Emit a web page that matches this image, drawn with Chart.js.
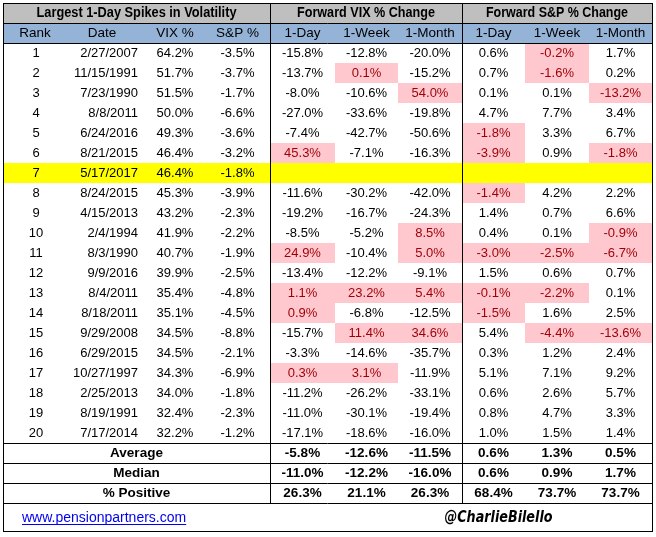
<!DOCTYPE html>
<html>
<head>
<meta charset="utf-8">
<title>Largest 1-Day Spikes in Volatility</title>
<script src="https://cdn.jsdelivr.net/npm/chart.js@4.4.1/dist/chart.umd.min.js"></script>
<style>
    html, body { margin: 0; padding: 0; background: #fff; }
    canvas { display: block; }
</style>
</head>
<body>
<canvas id="spikeTable" width="656" height="537"></canvas>
<script>
const ranks = [1, 2, 3, 4, 5, 6, 7, 8, 9, 10, 11, 12, 13, 14, 15, 16, 17, 18, 19, 20];
const dates = ['2/27/2007', '11/15/1991', '7/23/1990', '8/8/2011', '6/24/2016', '8/21/2015', '5/17/2017',
    '8/24/2015', '4/15/2013', '2/4/1994', '8/3/1990', '9/9/2016', '8/4/2011', '8/18/2011', '9/29/2008',
    '6/29/2015', '10/27/1997', '2/25/2013', '8/19/1991', '7/17/2014'];
const vixSpike = [64.2, 51.7, 51.5, 50.0, 49.3, 46.4, 46.4, 45.3, 43.2, 41.9, 40.7, 39.9, 35.4, 35.1, 34.5, 34.5, 34.3, 34.0, 32.4, 32.2];
const spxSameDay = [-3.5, -3.7, -1.7, -6.6, -3.6, -3.2, -1.8, -3.9, -2.3, -2.2, -1.9, -2.5, -4.8, -4.5, -8.8, -2.1, -6.9, -1.8, -2.3, -1.2];

const vix1Day = [-15.8, -13.7, -8.0, -27.0, -7.4, 45.3, null, -11.6, -19.2, -8.5, 24.9, -13.4, 1.1, 0.9, -15.7, -3.3, 0.3, -11.2, -11.0, -17.1];
const vix1Week = [-12.8, 0.1, -10.6, -33.6, -42.7, -7.1, null, -30.2, -16.7, -5.2, -10.4, -12.2, 23.2, -6.8, 11.4, -14.6, 3.1, -26.2, -30.1, -18.6];
const vix1Month = [-20.0, -15.2, 54.0, -19.8, -50.6, -16.3, null, -42.0, -24.3, 8.5, 5.0, -9.1, 5.4, -12.5, 34.6, -35.7, -11.9, -33.1, -19.4, -16.0];
const spx1Day = [0.6, 0.7, 0.1, 4.7, -1.8, -3.9, null, -1.4, 1.4, 0.4, -3.0, 1.5, -0.1, -1.5, 5.4, 0.3, 5.1, 0.6, 0.8, 1.0];
const spx1Week = [-0.2, -1.6, 0.1, 7.7, 3.3, 0.9, null, 4.2, 0.7, 0.1, -2.5, 0.6, -2.2, 1.6, -4.4, 1.2, 7.1, 2.6, 4.7, 1.5];
const spx1Month = [1.7, 0.2, -13.2, 3.4, 6.7, -1.8, null, 2.2, 6.6, -0.9, -6.7, 0.7, 0.1, 2.5, -13.6, 2.4, 9.2, 5.7, 3.3, 1.4];

const highlightRank = 7; // the latest spike, yellow row

const summaryLabels = ['Average', 'Median', '% Positive'];
const summaryAverage = [-5.8, -12.6, -11.5, 0.6, 1.3, 0.5];
const summaryMedian = [-11.0, -12.2, -16.0, 0.6, 0.9, 1.7];
const summaryPositive = [26.3, 21.1, 26.3, 68.4, 73.7, 73.7];

const groupTitles = ['Largest 1-Day Spikes in Volatility', 'Forward VIX % Change', 'Forward S&P % Change'];
const columnLabels = ['Rank', 'Date', 'VIX %', 'S&P %', '1-Day', '1-Week', '1-Month', '1-Day', '1-Week', '1-Month'];
const footerLink = 'www.pensionpartners.com';
const footerHandle = '@CharlieBilello';

// --- layout (table units) ---
const colWidths = [64, 78, 60, 65, 65, 63, 64, 63, 64, 63];
const colEdges = colWidths.reduce((acc, w) => { acc.push(acc[acc.length - 1] + w); return acc; }, [0]);
const TABLE_W = colEdges[colEdges.length - 1];
const FOOTER_H = 1.4;
const ROW_DATA0 = 2;
const ROW_SUMMARY0 = ROW_DATA0 + ranks.length;
const ROW_FOOTER = ROW_SUMMARY0 + summaryLabels.length;
const TABLE_H = ROW_FOOTER + FOOTER_H;

const FONT = "'Liberation Sans', Arial, sans-serif";
const GRAY = '#bfbfbf';
const BLUE = '#95b3d7';
const YELLOW = '#ffff00';
const PINK = '#ffc7ce';
const PINK_TEXT = '#9c0006';

const fmt = v => v.toFixed(1) + '%';

const tablePlugin = {
    id: 'tablePlugin',
    beforeDatasetsDraw(chart) {
        const ctx = chart.ctx;
        const xs = chart.scales.x;
        const ys = chart.scales.y;
        const px = v => Math.round(xs.getPixelForValue(v));
        const py = v => Math.round(ys.getPixelForValue(v));
        const colCenter = c => (xs.getPixelForValue(colEdges[c]) + xs.getPixelForValue(colEdges[c + 1])) / 2;
        const rowCenter = r => (ys.getPixelForValue(r) + ys.getPixelForValue(r + 1)) / 2;

        function fillCell(c0, c1, r0, r1, color) {
            ctx.fillStyle = color;
            ctx.fillRect(px(colEdges[c0]), py(r0), px(colEdges[c1]) - px(colEdges[c0]), py(r1) - py(r0));
        }
        function text(str, x, y, opts = {}) {
            ctx.font = (opts.weight || 'normal') + ' ' + (opts.size || 13) + 'px ' + FONT;
            ctx.fillStyle = opts.color || '#000';
            ctx.textAlign = opts.align || 'center';
            ctx.textBaseline = 'middle';
            if (opts.maxWidth) ctx.fillText(str, x, y, opts.maxWidth);
            else ctx.fillText(str, x, y);
        }

        ctx.save();

        // header fills
        fillCell(0, 10, 0, 1, GRAY);
        fillCell(0, 10, 1, 2, BLUE);

        // yellow row for the latest spike
        const hi = ranks.indexOf(highlightRank);
        fillCell(0, 10, ROW_DATA0 + hi, ROW_DATA0 + hi + 1, YELLOW);

        // forward columns: VIX up is a pink cell, S&P down is a pink cell
        const forward = [vix1Day, vix1Week, vix1Month, spx1Day, spx1Week, spx1Month];
        const isBad = (col, v) => v !== null && (col < 3 ? v > 0 : v < 0);
        forward.forEach((series, k) => {
            series.forEach((v, i) => {
                if (isBad(k, v)) fillCell(4 + k, 5 + k, ROW_DATA0 + i, ROW_DATA0 + i + 1, PINK);
            });
        });

        // group titles
        const groupSpans = [[0, 4], [4, 7], [7, 10]];
        const groupWidths = [200, 138, 142];
        groupSpans.forEach(([a, b], g) => {
            const cx = (px(colEdges[a]) + px(colEdges[b])) / 2;
            text(groupTitles[g], cx, rowCenter(0), { weight: 'bold', size: 14, maxWidth: groupWidths[g] });
        });

        // column labels
        columnLabels.forEach((lbl, c) => {
            const cx = c === 1 ? colCenter(c) - 4 : colCenter(c);
            text(lbl, cx, rowCenter(1), { size: 13.5 });
        });

        // data rows
        ranks.forEach((rank, i) => {
            const cy = rowCenter(ROW_DATA0 + i);
            text(String(rank), colCenter(0) + 1, cy);
            text(dates[i], px(colEdges[2]) - 7, cy, { align: 'right' });
            text(fmt(vixSpike[i]), colCenter(2), cy);
            text(fmt(spxSameDay[i]), colCenter(3), cy);
            forward.forEach((series, k) => {
                const v = series[i];
                if (v === null) return;
                text(fmt(v), colCenter(4 + k), cy, { color: isBad(k, v) ? PINK_TEXT : '#000' });
            });
        });

        // summary rows
        const summaries = [summaryAverage, summaryMedian, summaryPositive];
        summaries.forEach((vals, j) => {
            const cy = rowCenter(ROW_SUMMARY0 + j);
            const lx = (px(colEdges[0]) + px(colEdges[4])) / 2;
            text(summaryLabels[j], lx, cy, { weight: 'bold', size: 13.5 });
            vals.forEach((v, k) => text(fmt(v), colCenter(4 + k), cy, { weight: 'bold', size: 13.5 }));
        });

        // footer
        const fy = rowCenter(ROW_FOOTER) * 0 + (ys.getPixelForValue(ROW_FOOTER) + ys.getPixelForValue(TABLE_H)) / 2 + 1;
        ctx.font = '14px ' + FONT;
        const linkX = px(colEdges[0]) + 19;
        const linkW = Math.min(ctx.measureText(footerLink).width, 168);
        text(footerLink, linkX, fy, { align: 'left', size: 14, color: '#0000ee', maxWidth: 168 });
        ctx.strokeStyle = '#0000ee';
        ctx.lineWidth = 1;
        ctx.beginPath();
        ctx.moveTo(linkX, Math.round(fy) + 6.5);
        ctx.lineTo(linkX + linkW, Math.round(fy) + 6.5);
        ctx.stroke();

        ctx.font = "italic bold 15px 'DejaVu Sans', sans-serif";
        ctx.fillStyle = '#000';
        ctx.textAlign = 'center';
        ctx.textBaseline = 'middle';
        ctx.fillText(footerHandle, (px(colEdges[7]) + px(colEdges[8])) / 2 + 5, fy, 108);

        // grid lines
        ctx.strokeStyle = '#000';
        ctx.lineWidth = 1;
        const hLine = (r, x0, x1) => {
            ctx.beginPath();
            ctx.moveTo(x0, py(r) + 0.5);
            ctx.lineTo(x1, py(r) + 0.5);
            ctx.stroke();
        };
        const vLine = (c, r0, r1) => {
            ctx.beginPath();
            ctx.moveTo(px(colEdges[c]) + 0.5, py(r0));
            ctx.lineTo(px(colEdges[c]) + 0.5, py(r1));
            ctx.stroke();
        };
        const left = px(0), right = px(TABLE_W);
        [1, 2, ROW_SUMMARY0, ROW_SUMMARY0 + 1, ROW_SUMMARY0 + 2, ROW_FOOTER].forEach(r => hLine(r, left, right));
        vLine(4, 0, ROW_FOOTER);
        vLine(7, 0, ROW_FOOTER);
        ctx.strokeRect(left + 0.5, py(0) + 0.5, right - left, py(TABLE_H) - py(0));

        ctx.restore();
    }
};

new Chart(document.getElementById('spikeTable'), {
    type: 'scatter',
    data: { datasets: [] },
    options: {
        responsive: false,
        devicePixelRatio: 1,
        animation: false,
        layout: { padding: { left: 3, top: 3, right: 4, bottom: 6 } },
        plugins: { legend: { display: false }, tooltip: { enabled: false } },
        scales: {
            x: { type: 'linear', min: 0, max: TABLE_W, display: false },
            y: { type: 'linear', min: 0, max: TABLE_H, reverse: true, display: false }
        }
    },
    plugins: [tablePlugin]
});
</script>
</body>
</html>
